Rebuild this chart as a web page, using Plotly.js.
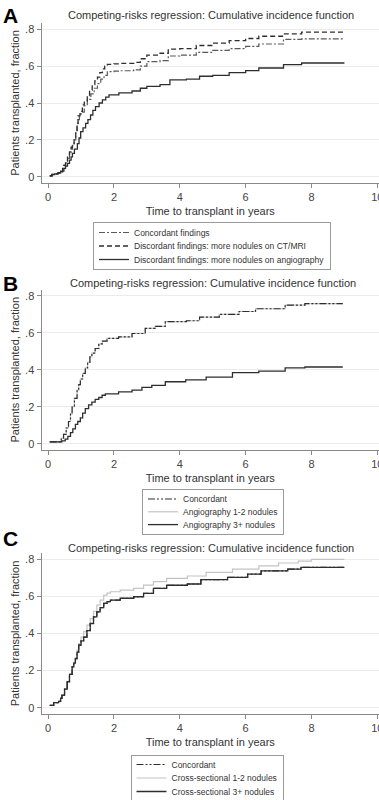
<!DOCTYPE html>
<html>
<head>
<meta charset="utf-8">
<script src="https://cdn.plot.ly/plotly-3.0.1.min.js"></script>
<style>html,body{margin:0;padding:0;background:#fff;}#chart{width:379px;height:800px;}</style>
</head>
<body>
<div id="chart"></div>
<script>
// ---------- Data ----------
const panelTitle = 'Competing-risks regression: Cumulative incidence function';
const xTitle = 'Time to transplant in years';
const yTitle = 'Patients transplanted, fraction';
const xTickVals = [0, 2, 4, 6, 8, 10];
const xTickText = ['0', '2', '4', '6', '8', '10'];
const yTickVals = [0, 0.2, 0.4, 0.6, 0.8];
const yTickText = ['0', '.2', '.4', '.6', '.8'];

// Panel A
const A_names = ['Concordant findings', 'Discordant findings: more nodules on CT/MRI', 'Discordant findings: more nodules on angiography'];
const A_conc_t = [0.05, 0.12, 0.2, 0.3, 0.38, 0.44, 0.48, 0.53, 0.59, 0.65, 0.7, 0.74, 0.79, 0.84, 0.88, 0.91, 0.95, 1.0, 1.1, 1.19, 1.3, 1.4, 1.5, 1.6, 1.7, 1.8, 2.0, 2.2, 2.6, 2.8, 3.0, 3.4, 3.65, 4.0, 4.5, 5.0, 5.5, 6.0, 6.4, 7.15, 7.7, 9.0];
const A_conc_v = [0.005, 0.012, 0.015, 0.02, 0.027, 0.042, 0.06, 0.075, 0.1, 0.125, 0.15, 0.17, 0.2, 0.24, 0.28, 0.31, 0.33, 0.35, 0.385, 0.42, 0.45, 0.48, 0.505, 0.53, 0.55, 0.57, 0.573, 0.575, 0.58, 0.6, 0.625, 0.63, 0.655, 0.66, 0.675, 0.685, 0.695, 0.707, 0.72, 0.745, 0.748, 0.748];
const A_ct_t = [0.05, 0.12, 0.2, 0.3, 0.38, 0.44, 0.48, 0.53, 0.59, 0.65, 0.7, 0.74, 0.79, 0.84, 0.88, 0.91, 0.97, 1.04, 1.1, 1.19, 1.26, 1.34, 1.42, 1.5, 1.57, 1.65, 1.72, 1.8, 2.0, 2.2, 2.6, 2.8, 3.0, 3.4, 3.65, 4.0, 4.5, 5.0, 5.5, 6.0, 6.4, 7.15, 7.7, 9.0];
const A_ct_v = [0.005, 0.012, 0.015, 0.02, 0.027, 0.045, 0.063, 0.08, 0.11, 0.135, 0.16, 0.18, 0.215, 0.25, 0.29, 0.33, 0.355, 0.39, 0.41, 0.44, 0.47, 0.5, 0.52, 0.54, 0.565, 0.585, 0.6, 0.61, 0.612, 0.615, 0.62, 0.64, 0.66, 0.67, 0.692, 0.695, 0.712, 0.725, 0.738, 0.75, 0.762, 0.775, 0.785, 0.785];
const A_ang_t = [0.05, 0.12, 0.2, 0.3, 0.38, 0.48, 0.53, 0.59, 0.65, 0.7, 0.74, 0.8, 0.89, 0.94, 0.99, 1.06, 1.14, 1.21, 1.29, 1.36, 1.44, 1.55, 1.65, 1.75, 1.85, 2.15, 2.55, 2.8, 3.0, 3.4, 3.7, 4.2, 4.6, 5.0, 5.5, 6.0, 6.4, 7.15, 7.7, 9.0];
const A_ang_v = [0.005, 0.012, 0.015, 0.022, 0.03, 0.045, 0.058, 0.072, 0.09, 0.108, 0.127, 0.15, 0.18, 0.21, 0.245, 0.265, 0.29, 0.31, 0.335, 0.36, 0.38, 0.4, 0.417, 0.432, 0.444, 0.455, 0.465, 0.48, 0.49, 0.5, 0.525, 0.53, 0.545, 0.55, 0.565, 0.576, 0.59, 0.608, 0.617, 0.617];

// Panel B
const B_names = ['Concordant', 'Angiography 1-2 nodules', 'Angiography 3+ nodules'];
const B_conc_t = [0.05, 0.32, 0.4, 0.47, 0.55, 0.62, 0.68, 0.73, 0.8, 0.88, 0.93, 0.98, 1.05, 1.13, 1.2, 1.27, 1.33, 1.43, 1.54, 1.65, 1.79, 2.14, 2.55, 2.95, 3.25, 3.56, 4.2, 4.6, 5.2, 5.8, 6.3, 7.2, 7.8, 8.95];
const B_conc_v = [0.01, 0.01, 0.03, 0.05, 0.085, 0.12, 0.16, 0.2, 0.245, 0.29, 0.32, 0.35, 0.38, 0.41, 0.44, 0.47, 0.49, 0.515, 0.54, 0.555, 0.57, 0.578, 0.596, 0.624, 0.635, 0.66, 0.665, 0.685, 0.7, 0.715, 0.73, 0.75, 0.758, 0.758];
const B_a12_t = [0.05, 0.32, 0.4, 0.47, 0.55, 0.62, 0.68, 0.73, 0.8, 0.88, 0.93, 0.98, 1.05, 1.13, 1.2, 1.27, 1.33, 1.43, 1.54, 1.65, 1.79, 2.14, 2.55, 2.95, 3.25, 3.56, 4.2, 4.6, 5.2, 5.8, 6.3, 7.2, 7.8, 8.95];
const B_a12_v = [0.01, 0.01, 0.03, 0.05, 0.085, 0.12, 0.16, 0.2, 0.245, 0.29, 0.32, 0.35, 0.38, 0.41, 0.44, 0.47, 0.49, 0.515, 0.54, 0.555, 0.57, 0.578, 0.596, 0.624, 0.635, 0.66, 0.665, 0.685, 0.7, 0.715, 0.73, 0.75, 0.758, 0.758];
const B_a3_t = [0.05, 0.32, 0.42, 0.52, 0.6, 0.68, 0.75, 0.83, 0.9, 0.98, 1.05, 1.13, 1.23, 1.33, 1.43, 1.54, 1.64, 1.74, 2.14, 2.55, 2.85, 3.15, 3.56, 4.18, 4.8, 5.6, 6.4, 7.2, 7.8, 8.95];
const B_a3_v = [0.01, 0.01, 0.015, 0.025, 0.04, 0.06, 0.08, 0.105, 0.12, 0.14, 0.165, 0.19, 0.21, 0.225, 0.24, 0.25, 0.262, 0.27, 0.28, 0.29, 0.305, 0.315, 0.335, 0.345, 0.36, 0.384, 0.393, 0.41, 0.415, 0.415];

// Panel C
const C_names = ['Concordant', 'Cross-sectional 1-2 nodules', 'Cross-sectional 3+ nodules'];
const C_conc_t = [0.05, 0.17, 0.32, 0.38, 0.42, 0.5, 0.58, 0.65, 0.73, 0.78, 0.83, 0.88, 0.93, 1.0, 1.08, 1.18, 1.28, 1.38, 1.48, 1.58, 1.69, 1.79, 1.89, 2.19, 2.6, 2.9, 3.2, 3.6, 4.23, 4.64, 5.45, 6.06, 6.47, 7.28, 7.68, 9.0];
const C_conc_v = [0.013, 0.027, 0.034, 0.05, 0.067, 0.1, 0.14, 0.18, 0.22, 0.24, 0.265, 0.3, 0.337, 0.36, 0.38, 0.415, 0.454, 0.49, 0.517, 0.54, 0.562, 0.572, 0.58, 0.59, 0.598, 0.616, 0.643, 0.66, 0.667, 0.69, 0.703, 0.72, 0.738, 0.747, 0.756, 0.756];
const C_c12_t = [0.05, 0.17, 0.32, 0.38, 0.42, 0.5, 0.58, 0.65, 0.73, 0.78, 0.83, 0.88, 0.93, 1.0, 1.08, 1.18, 1.28, 1.38, 1.48, 1.58, 1.69, 1.79, 1.89, 2.19, 2.6, 2.9, 3.2, 3.6, 4.23, 4.8, 5.6, 6.4, 7.0, 7.6, 8.0, 9.0];
const C_c12_v = [0.013, 0.027, 0.034, 0.05, 0.067, 0.1, 0.14, 0.18, 0.22, 0.245, 0.27, 0.31, 0.346, 0.38, 0.41, 0.445, 0.48, 0.52, 0.553, 0.58, 0.607, 0.618, 0.625, 0.634, 0.643, 0.661, 0.68, 0.697, 0.71, 0.73, 0.747, 0.765, 0.78, 0.79, 0.8, 0.8];
const C_c3_t = [0.05, 0.17, 0.32, 0.38, 0.42, 0.5, 0.58, 0.65, 0.73, 0.78, 0.83, 0.88, 0.93, 1.0, 1.08, 1.18, 1.28, 1.38, 1.48, 1.58, 1.69, 1.79, 1.89, 2.19, 2.6, 2.9, 3.2, 3.6, 4.23, 4.64, 5.45, 6.06, 6.47, 7.28, 7.68, 9.0];
const C_c3_v = [0.013, 0.027, 0.034, 0.05, 0.067, 0.1, 0.14, 0.18, 0.22, 0.24, 0.265, 0.3, 0.337, 0.36, 0.38, 0.415, 0.454, 0.49, 0.517, 0.54, 0.562, 0.572, 0.58, 0.59, 0.598, 0.616, 0.643, 0.66, 0.667, 0.69, 0.703, 0.72, 0.738, 0.747, 0.756, 0.756];

// ---------- Styles ----------
const FONT = 'Liberation Sans, Arial, sans-serif';
const DARK = '#2e2e2e';
const GRAY = '#c4c4c4';
const STYLE_CONC_A = {color: '#5a5a5a', width: 1.2, dash: '6px,2px,2px,2px'};
const STYLE_CONC_BC = {color: DARK, width: 1.2, dash: '7px,2px,2px,2px,2px,2px'};
const STYLE_DASH = {color: DARK, width: 1.3, dash: '5px,3px'};
const STYLE_SOLID = {color: DARK, width: 1.3, dash: 'solid'};
const STYLE_LIGHT = {color: GRAY, width: 1.2, dash: 'solid'};

function tr(t, v, name, line, ax, lg, rank) {
  return {x: t, y: v, name: name, type: 'scatter', mode: 'lines',
    line: Object.assign({shape: 'hv'}, line), legendrank: rank,
    xaxis: 'x' + ax, yaxis: 'y' + ax, legend: lg, hoverinfo: 'skip'};
}

const data = [
  tr(A_conc_t, A_conc_v, A_names[0], STYLE_CONC_A, '', 'legend', 1),
  tr(A_ct_t, A_ct_v, A_names[1], STYLE_DASH, '', 'legend', 2),
  tr(A_ang_t, A_ang_v, A_names[2], STYLE_SOLID, '', 'legend', 3),
  tr(B_a12_t, B_a12_v, B_names[1], STYLE_LIGHT, '2', 'legend2', 2),
  tr(B_conc_t, B_conc_v, B_names[0], STYLE_CONC_BC, '2', 'legend2', 1),
  tr(B_a3_t, B_a3_v, B_names[2], STYLE_SOLID, '2', 'legend2', 3),
  tr(C_c12_t, C_c12_v, C_names[1], STYLE_LIGHT, '3', 'legend3', 2),
  tr(C_conc_t, C_conc_v, C_names[0], STYLE_CONC_BC, '3', 'legend3', 1),
  tr(C_c3_t, C_c3_v, C_names[2], STYLE_SOLID, '3', 'legend3', 3)
];

const H = 800, W = 379;
function py(px) { return 1 - px / H; }

function xaxis(anchor) {
  return {domain: [41.5 / W, 1], range: [-0.2, 10.05], anchor: anchor,
    tickvals: xTickVals, ticktext: xTickText, ticks: 'outside', ticklen: 4, tickcolor: '#8a8a8a',
    ticklabeloverflow: 'allow',
    showline: true, linecolor: '#8a8a8a', linewidth: 1, showgrid: false, zeroline: false,
    tickfont: {family: FONT, size: 11, color: '#444'},
    title: {text: xTitle, font: {family: FONT, size: 11, color: '#333'}, standoff: 5}};
}
function yaxis(anchor, top, bottom) {
  return {domain: [py(bottom), py(top)], range: [-0.034, 0.834], anchor: anchor,
    tickvals: yTickVals, ticktext: yTickText, ticks: 'outside', ticklen: 4, tickcolor: '#8a8a8a',
    showline: true, linecolor: '#8a8a8a', linewidth: 1, showgrid: true, gridcolor: '#ececec', gridwidth: 1, zeroline: false,
    tickfont: {family: FONT, size: 11, color: '#444'},
    title: {text: yTitle, font: {family: FONT, size: 11, color: '#333'}, standoff: 3}};
}
function legend(cx, top) {
  return {x: cx / W, xanchor: 'center', y: py(top), yanchor: 'top', orientation: 'v',
    bgcolor: '#fff', bordercolor: '#9a9a9a', borderwidth: 1,
    font: {family: FONT, size: 8.5, color: '#333'}, traceorder: 'normal', tracegroupgap: 0};
}
function ann(text, cx, cy, size, bold) {
  return {text: bold ? '<b>' + text + '</b>' : text, xref: 'paper', yref: 'paper',
    x: cx / W, y: py(cy), xanchor: bold ? 'left' : 'center', yanchor: 'middle', showarrow: false,
    font: {family: FONT, size: size, color: bold ? '#000' : '#333'}};
}

// legend boxes: centre x, final top y, first-row offset, row pitch (px, from the reference)
const LEGENDS = [
  {id: 'legend', cx: 212, top: 222, first: 10.5, row: 13.5},
  {id: 'legend2', cx: 213, top: 489, first: 10, row: 12.8},
  {id: 'legend3', cx: 207, top: 755, first: 9.5, row: 13.5}
];

const layout = {
  width: W, height: H, margin: {l: 0, r: 0, t: 0, b: 0, autoexpand: false},
  paper_bgcolor: '#fff', plot_bgcolor: '#fff', font: {family: FONT},
  showlegend: true,
  xaxis: xaxis('y'), yaxis: yaxis('x', 23, 183),
  xaxis2: xaxis('y2'), yaxis2: yaxis('x2', 289.5, 450),
  xaxis3: xaxis('y3'), yaxis3: yaxis('x3', 553, 714),
  // legend3 is first laid out higher (so the un-tightened box fits the page and
  // does not push the margins), then pinned to its final top below.
  legend: legend(212, 222), legend2: legend(213, 489), legend3: legend(207, 720),
  annotations: [
    ann(panelTitle, 211, 15, 11, false),
    ann(panelTitle, 213, 283, 11, false),
    ann(panelTitle, 211, 548, 11, false),
    ann('A', 1, 15, 21, true),
    ann('B', 1, 283, 21, true),
    ann('C', 1, 538, 21, true)
  ]
};

// Tighten legend rows (the reference uses ~13 px rows) and pin each box top.
function compactLegends(gd) {
  const LASTPAD = 9;
  LEGENDS.forEach(function (L) {
    const g = gd.querySelector('g.' + L.id);
    if (!g) return;
    const items = g.querySelectorAll('g.traces');
    items.forEach(function (it, i) {
      const m = /translate\(\s*([-\d.e]+)[ ,]+([-\d.e]+)\s*\)/.exec(it.getAttribute('transform') || '');
      const x = m ? parseFloat(m[1]) : 0;
      it.setAttribute('transform', 'translate(' + x + ',' + (L.first + i * L.row) + ')');
      it.querySelectorAll('rect.legendtoggle').forEach(function (r) {
        r.setAttribute('y', -L.row / 2); r.setAttribute('height', L.row);
      });
    });
    const newH = L.first + (items.length - 1) * L.row + LASTPAD;
    const bg = g.querySelector('rect.bg');
    if (bg) bg.setAttribute('height', newH);
    const gm = /translate\(\s*([-\d.e]+)[ ,]+([-\d.e]+)\s*\)/.exec(g.getAttribute('transform') || '');
    const gx = gm ? parseFloat(gm[1]) : 0;
    g.setAttribute('transform', 'translate(' + gx + ',' + L.top + ')');
  });
}

Plotly.newPlot('chart', data, layout, {staticPlot: true, displayModeBar: false}).then(compactLegends);
</script>
</body>
</html>
